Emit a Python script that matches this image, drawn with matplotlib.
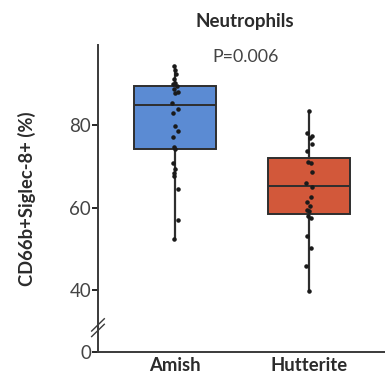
import matplotlib
matplotlib.use("Agg")
import matplotlib.pyplot as plt

# --- data ---
groups = ["Amish", "Hutterite"]
box_colors = ["#5b8bd3", "#d2583a"]

# quartile summaries (low whisker, q1, median, q3, high whisker)
amish_stats = [52.3, 74.2, 84.9, 89.5, 94.3]
hutterite_stats = [39.7, 58.4, 65.2, 72.1, 83.4]

amish_points = [94.3, 93.3, 92.4, 91.3, 90.3, 89.9, 89.5, 88.7, 88.1, 87.7,
                85.4, 83.8, 83.0, 79.8, 78.6, 77.2, 74.7, 74.3, 70.9, 69.3,
                68.4, 67.6, 64.4, 57.1, 52.3]
amish_jitter = [-0.01, 0.0, 0.01, -0.01, 0.0, -0.015, 0.015, -0.01, 0.02, 0.0,
                -0.02, 0.025, -0.015, 0.0, 0.02, -0.015, -0.01, 0.0, -0.015, 0.0,
                -0.01, -0.01, 0.02, 0.025, -0.01]

hutterite_points = [83.4, 78.0, 77.3, 77.0, 75.5, 73.8, 71.1, 70.7, 68.7, 66.0,
                    65.0, 62.6, 61.4, 60.3, 59.5, 59.2, 57.9, 57.6, 53.1, 50.2,
                    45.8, 39.7]
hutterite_jitter = [0.0, -0.015, 0.02, 0.01, 0.02, -0.015, -0.01, 0.015, 0.02, -0.025,
                    0.02, 0.015, -0.015, 0.01, -0.015, 0.0, -0.01, 0.015, -0.015, 0.015,
                    -0.02, 0.0]

y_ticks = [40, 60, 80]
y_bottom = 25  # broken axis: bottom of the axis is labelled 0

plt.rcParams['font.family'] = ['Lato', 'DejaVu Sans']
text_color = "#2b2b2b"

fig = plt.figure(figsize=(3.85, 3.76), dpi=100)
ax = fig.add_axes([0.2545, 0.064, 0.7455, 0.817])

stats = []
for name, s in zip(groups, [amish_stats, hutterite_stats]):
    stats.append({"label": name, "whislo": s[0], "q1": s[1], "med": s[2],
                  "q3": s[3], "whishi": s[4], "fliers": []})

bp = ax.bxp(stats, positions=[1, 2], widths=0.61, patch_artist=True,
            showcaps=False, showfliers=False,
            boxprops=dict(linewidth=1.4, edgecolor="#2e2e2e"),
            medianprops=dict(color="#2e2e2e", linewidth=1.4),
            whiskerprops=dict(color="#2e2e2e", linewidth=1.6))
for patch, c in zip(bp["boxes"], box_colors):
    patch.set_facecolor(c)
    patch.set_zorder(1)

for pos, pts, jit in [(1, amish_points, amish_jitter),
                      (2, hutterite_points, hutterite_jitter)]:
    ax.scatter([pos + j for j in jit], pts, s=5, color="#1a1a1a", zorder=3)

ax.set_xlim(0.426, 2.566)
ax.set_ylim(y_bottom, 99.5)
ax.set_yticks([y_bottom] + y_ticks)
ax.set_yticklabels(["0"] + [str(t) for t in y_ticks])
ax.set_xticks([1, 2])
ax.set_xticklabels(groups, fontweight="bold", fontsize=13.3, color=text_color)
ax.tick_params(axis="x", length=0, pad=4)
ax.tick_params(axis="y", length=4, width=1.2, labelsize=13.5, labelcolor="#444444", pad=1)

for side in ["top", "right"]:
    ax.spines[side].set_visible(False)
for side in ["left", "bottom"]:
    ax.spines[side].set_linewidth(1.4)
    ax.spines[side].set_color("#3a3a3a")

ax.set_ylabel("CD66b+Siglec-8+ (%)", fontweight="bold", fontsize=13.2,
              color=text_color, labelpad=24)

# axis break marks
for dy in [0.0, 0.018]:
    ax.plot([-0.022, 0.022], [0.05 + dy, 0.09 + dy], transform=ax.transAxes,
            color="#3a3a3a", linewidth=1.0, clip_on=False)

fig.text(0.637, 0.943, "Neutrophils", ha="center", va="center",
         fontweight="bold", fontsize=13.5, color=text_color)
fig.text(0.637, 0.848, "P=0.006", ha="center", va="center",
         fontsize=12.8, color="#444444")

fig.savefig("out.png", dpi=100)
